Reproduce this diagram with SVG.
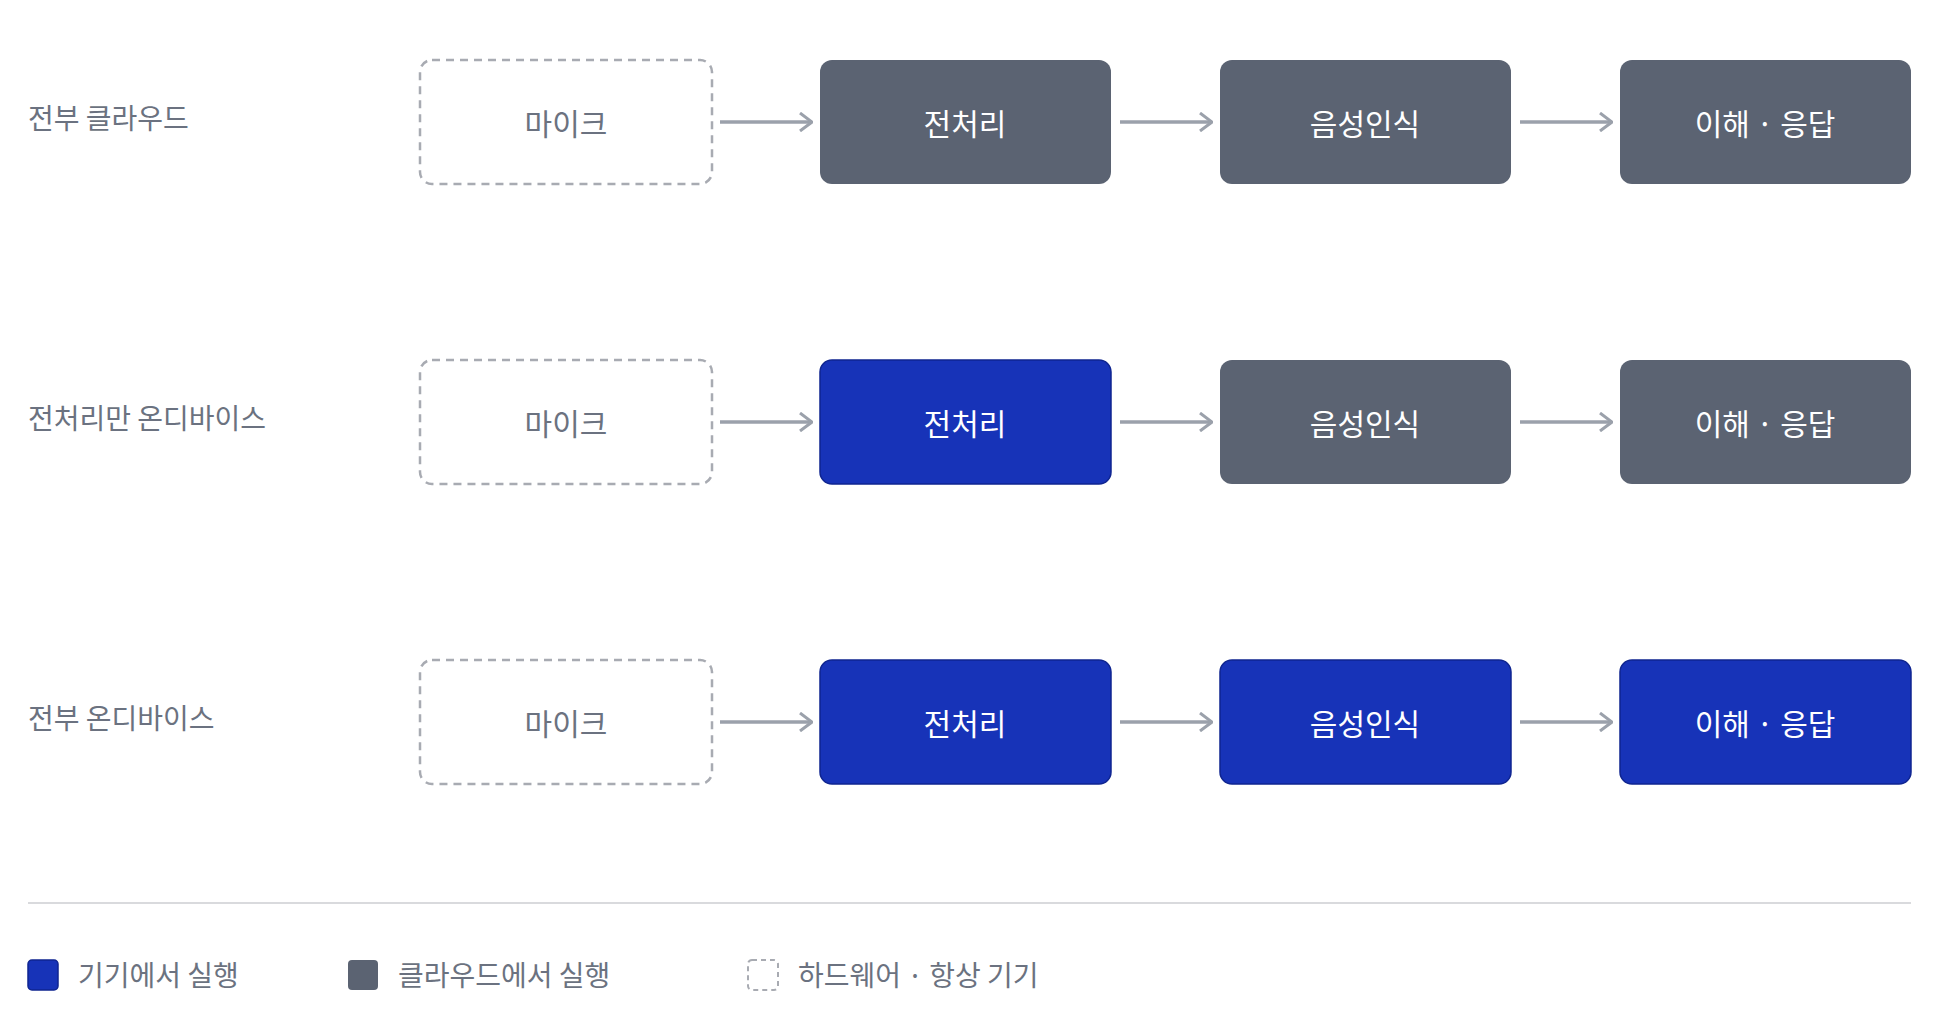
<svg xmlns="http://www.w3.org/2000/svg" width="1960" height="1024" viewBox="0 0 1960 1024">
<defs>
<style>
text{font-family:"Noto Sans CJK KR","Noto Sans",sans-serif}
.lbl{font-size:28px;fill:#6b7280;dominant-baseline:central}
.bt{font-size:30px;fill:#fff;text-anchor:middle;dominant-baseline:central}
.mt{font-size:30px;fill:#6b7280;text-anchor:middle;dominant-baseline:central}
.mic{fill:#fff;stroke:#a8abb2;stroke-width:2.5;stroke-dasharray:8 6}
.g{fill:#5b6372}
.b{fill:#1733b8;stroke:#0f2590;stroke-width:1.5}
.c line{stroke:#9ba1ab;stroke-width:3.5}
.lg{font-size:28px;fill:#6b7280;dominant-baseline:central}
</style>
<marker id="ah" viewBox="0 0 14 20" refX="13" refY="10" markerWidth="14" markerHeight="20" markerUnits="userSpaceOnUse" orient="auto"><path d="M1 1 L13 10 L1 19" fill="none" stroke="#9ba1ab" stroke-width="3"/></marker>
</defs>
<rect width="1960" height="1024" fill="#fff"/>
<g id="row1">
<text class="lbl" x="28" y="117">전부 클라우드</text>
<g id="r1-mic"><rect class="mic" x="420" y="60" width="292" height="124" rx="12"/><text class="mt" x="566" y="122">마이크</text></g>
<g id="r1-pre"><rect class="g" x="820" y="60" width="291" height="124" rx="12"/><text class="bt" x="965" y="122">전처리</text></g>
<g id="r1-asr"><rect class="g" x="1220" y="60" width="291" height="124" rx="12"/><text class="bt" x="1365" y="122">음성인식</text></g>
<g id="r1-nlu"><rect class="g" x="1620" y="60" width="291" height="124" rx="12"/><text class="bt" x="1765" y="122">이해 · 응답</text></g>
</g>
<g id="row2">
<text class="lbl" x="28" y="417">전처리만 온디바이스</text>
<g id="r2-mic"><rect class="mic" x="420" y="360" width="292" height="124" rx="12"/><text class="mt" x="566" y="422">마이크</text></g>
<g id="r2-pre"><rect class="b" x="820" y="360" width="291" height="124" rx="12"/><text class="bt" x="965" y="422">전처리</text></g>
<g id="r2-asr"><rect class="g" x="1220" y="360" width="291" height="124" rx="12"/><text class="bt" x="1365" y="422">음성인식</text></g>
<g id="r2-nlu"><rect class="g" x="1620" y="360" width="291" height="124" rx="12"/><text class="bt" x="1765" y="422">이해 · 응답</text></g>
</g>
<g id="row3">
<text class="lbl" x="28" y="717">전부 온디바이스</text>
<g id="r3-mic"><rect class="mic" x="420" y="660" width="292" height="124" rx="12"/><text class="mt" x="566" y="722">마이크</text></g>
<g id="r3-pre"><rect class="b" x="820" y="660" width="291" height="124" rx="12"/><text class="bt" x="965" y="722">전처리</text></g>
<g id="r3-asr"><rect class="b" x="1220" y="660" width="291" height="124" rx="12"/><text class="bt" x="1365" y="722">음성인식</text></g>
<g id="r3-nlu"><rect class="b" x="1620" y="660" width="291" height="124" rx="12"/><text class="bt" x="1765" y="722">이해 · 응답</text></g>
</g>
<g id="connectors" class="c">
<line x1="720" y1="122" x2="812" y2="122" marker-end="url(#ah)"/>
<line x1="1120" y1="122" x2="1212" y2="122" marker-end="url(#ah)"/>
<line x1="1520" y1="122" x2="1612" y2="122" marker-end="url(#ah)"/>
<line x1="720" y1="422" x2="812" y2="422" marker-end="url(#ah)"/>
<line x1="1120" y1="422" x2="1212" y2="422" marker-end="url(#ah)"/>
<line x1="1520" y1="422" x2="1612" y2="422" marker-end="url(#ah)"/>
<line x1="720" y1="722" x2="812" y2="722" marker-end="url(#ah)"/>
<line x1="1120" y1="722" x2="1212" y2="722" marker-end="url(#ah)"/>
<line x1="1520" y1="722" x2="1612" y2="722" marker-end="url(#ah)"/>
</g>
<line x1="28" y1="903" x2="1911" y2="903" stroke="#d9dadd" stroke-width="2"/>
<g id="legend">
<rect class="b" x="28" y="960" width="30" height="30" rx="4"/><text class="lg" x="78" y="974">기기에서 실행</text>
<rect class="g" x="348" y="960" width="30" height="30" rx="4"/><text class="lg" x="398" y="974">클라우드에서 실행</text>
<rect fill="#fff" stroke="#a8abb2" stroke-width="2" stroke-dasharray="5 4" x="748" y="960" width="30" height="30" rx="4"/><text class="lg" x="798" y="974">하드웨어 · 항상 기기</text>
</g>
</svg>
